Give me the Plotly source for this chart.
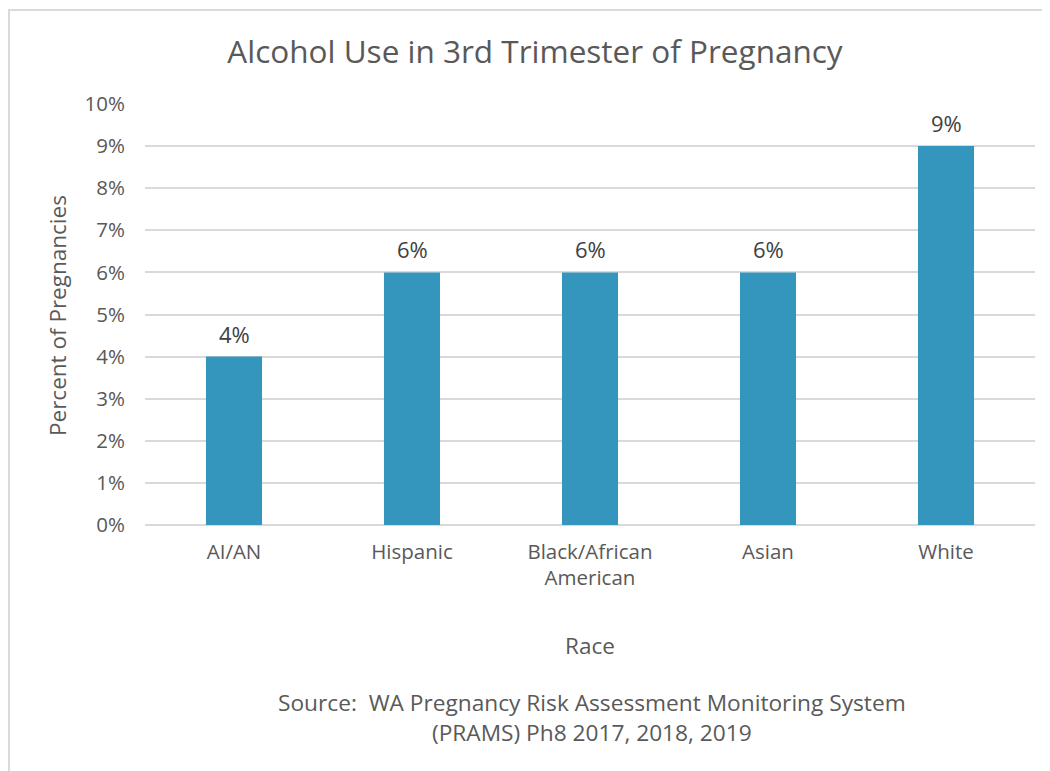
import plotly.graph_objects as go

categories = ["AI/AN", "Hispanic", "Black/African American", "Asian", "White"]
tick_labels = ["AI/AN", "Hispanic", "Black/African<br>American", "Asian", "White"]
values = [4, 6, 6, 6, 9]
y_ticks = [0, 1, 2, 3, 4, 5, 6, 7, 8, 9, 10]
y_tick_labels = [f"{v}%" for v in y_ticks]

FONT = "Open Sans"
TXT = "#595959"
OFF = 8  # default page body margin
W, H = 1050 - OFF, 771 - OFF
L = 145 - OFF
R = W - (1035 - OFF)
T = 104 - OFF
B = H - (525 - OFF)

def px2paper_x(px):
    return (px - OFF - L) / (W - L - R)

def px2paper_y(py):
    return (H - B - (py - OFF)) / (H - T - B)

fig = go.Figure()
fig.add_trace(go.Bar(
    x=categories, y=values,
    marker=dict(color="#3596bd", line=dict(width=0)),
    width=0.315,
    hoverinfo="skip",
))

label_annotations = [
    dict(x=c, y=v, xref="x", yref="y", text=f"{v}%", showarrow=False,
         xanchor="center", yanchor="middle", yshift=23,
         font=dict(family=FONT, size=22, color="#404040"))
    for c, v in zip(categories, values)
]

fig.update_layout(
    width=W, height=H,
    margin=dict(l=L, r=R, t=T, b=B, pad=0),
    paper_bgcolor="white", plot_bgcolor="white",
    showlegend=False,
    title=dict(
        text="Alcohol Use in 3rd Trimester of Pregnancy",
        font=dict(family=FONT, size=31.5, color=TXT),
        x=(535 - OFF) / W, xanchor="center", xref="container",
        y=1 - (52 - OFF) / H, yanchor="middle", yref="container",
    ),
    xaxis=dict(
        tickmode="array", tickvals=categories, ticktext=tick_labels,
        tickfont=dict(family=FONT, size=20.5, color=TXT),
        showgrid=False, showline=False, zeroline=False,
        ticks="", ticklabelstandoff=12,
    ),
    yaxis=dict(
        range=[0, 10], tickvals=y_ticks, ticktext=y_tick_labels,
        tickfont=dict(family=FONT, size=20.5, color=TXT),
        showgrid=True, gridcolor="#d9d9d9", gridwidth=1.5,
        zeroline=True, zerolinecolor="#d9d9d9", zerolinewidth=1.5,
        showline=False, ticks="", ticklabelstandoff=19,
    ),
    annotations=label_annotations + [
        dict(text="Percent of Pregnancies", xref="paper", yref="paper",
             x=px2paper_x(57), y=px2paper_y(316), textangle=-90,
             showarrow=False, xanchor="center", yanchor="middle",
             font=dict(family=FONT, size=22.5, color=TXT)),
        dict(text="Race", xref="paper", yref="paper",
             x=px2paper_x(590), y=px2paper_y(645),
             showarrow=False, xanchor="center", yanchor="middle",
             font=dict(family=FONT, size=22.5, color=TXT)),
        dict(text="Source:  WA Pregnancy Risk Assessment Monitoring System<br>(PRAMS) Ph8 2017, 2018, 2019",
             xref="paper", yref="paper",
             x=px2paper_x(592), y=px2paper_y(717),
             showarrow=False, xanchor="center", yanchor="middle", align="center",
             font=dict(family=FONT, size=22.7, color=TXT)),
    ],
    shapes=[
        dict(type="line", xref="paper", yref="paper",
             x0=px2paper_x(8), x1=px2paper_x(1050), y0=px2paper_y(10), y1=px2paper_y(10),
             line=dict(color="#d9d9d9", width=2)),
        dict(type="line", xref="paper", yref="paper",
             x0=px2paper_x(9), x1=px2paper_x(9), y0=px2paper_y(10), y1=px2paper_y(771),
             line=dict(color="#d9d9d9", width=2)),
    ],
)

fig.write_html("out.html")
